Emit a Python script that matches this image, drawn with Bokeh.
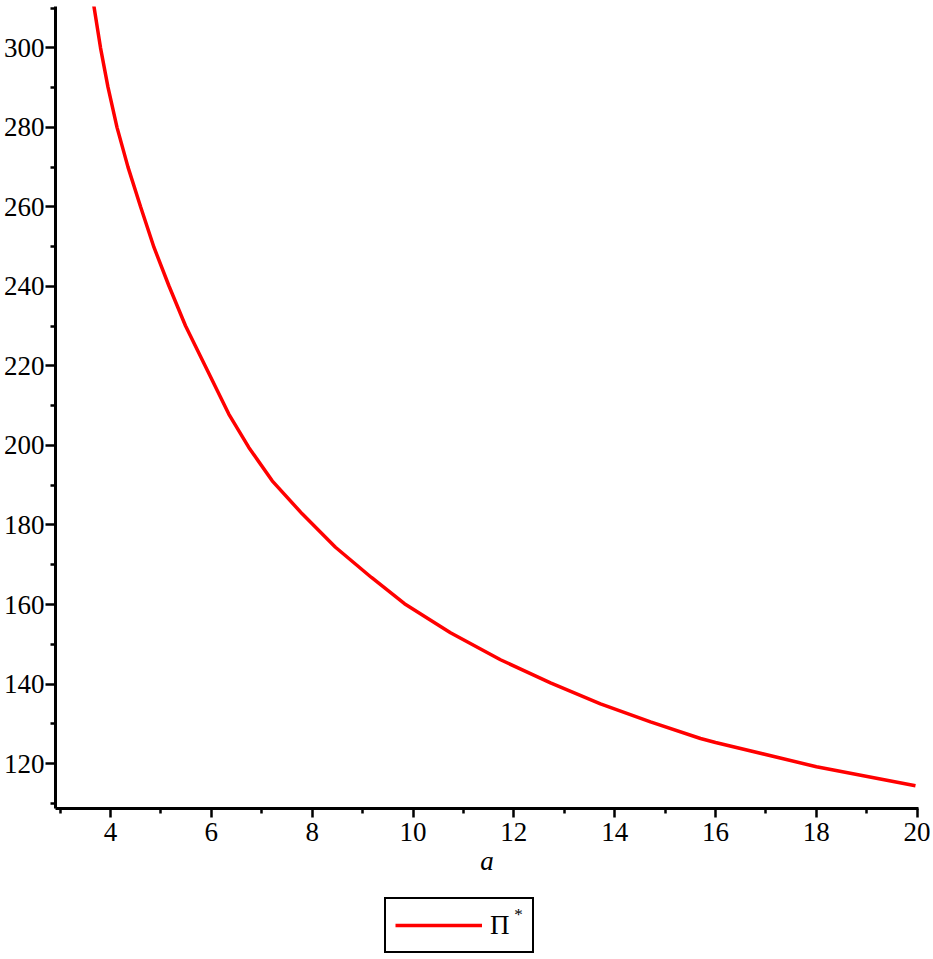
from bokeh.plotting import figure
from bokeh.models import Range1d, Legend, LegendItem, Label, FixedTicker
from bokeh.layouts import column
from bokeh.embed import file_html
from bokeh.resources import INLINE

# ---- data ----
a_values = [3.653, 3.802, 3.950, 4.129, 4.347, 4.595, 4.863, 5.160, 5.487, 5.874,
            6.346, 6.743, 7.207, 7.802, 8.462, 9.176, 9.831, 10.743, 11.735,
            12.727, 13.718, 14.710, 15.702, 16.000, 18.002, 19.966]
pi_values = [311.9, 300.0, 290.1, 280.0, 270.0, 260.1, 249.8, 240.1, 230.1, 220.1,
             207.9, 199.5, 191.1, 182.8, 174.4, 166.8, 160.2, 152.9, 146.1,
             140.3, 135.0, 130.5, 126.3, 125.3, 119.2, 114.4]

x_major_ticks = [4, 6, 8, 10, 12, 14, 16, 18, 20]
x_minor_ticks = [3, 5, 7, 9, 11, 13, 15, 17, 19]
y_major_ticks = [120, 140, 160, 180, 200, 220, 240, 260, 280, 300]
y_minor_ticks = [110, 130, 150, 170, 190, 210, 230, 250, 270, 290, 310]

x_label = "a"
series_label = "\u03a0"
series_superscript = "*"

FONT = "Liberation Serif"
RED = "#ff0000"

# ---- main plot ----
p = figure(width=930, height=890, output_backend="svg", toolbar_location=None,
           x_range=Range1d(2.909, 20.026), y_range=Range1d(108.70, 310.39),
           min_border_left=55, min_border_right=12, min_border_top=6,
           min_border_bottom=82)
p.outline_line_color = None
p.xgrid.visible = False
p.ygrid.visible = False

r = p.line(a_values, pi_values, line_color=RED, line_width=3.5)

p.xaxis.ticker = FixedTicker(ticks=x_major_ticks, minor_ticks=x_minor_ticks)
p.yaxis.ticker = FixedTicker(ticks=y_major_ticks, minor_ticks=y_minor_ticks)

for ax in (p.xaxis[0], p.yaxis[0]):
    ax.axis_line_color = "black"
    ax.axis_line_width = 3
    ax.major_tick_line_color = "black"
    ax.major_tick_line_width = 2.5
    ax.minor_tick_line_color = "black"
    ax.minor_tick_line_width = 2.5
    ax.major_tick_in = 0
    ax.minor_tick_in = 0
    ax.minor_tick_out = 5
    ax.major_label_text_font = FONT
    ax.major_label_text_font_size = "27px"
    ax.major_label_text_color = "black"

p.xaxis.major_tick_out = 9
p.yaxis.major_tick_out = 10
p.xaxis.major_label_standoff = 5
p.yaxis.major_label_standoff = 1

p.xaxis.axis_label = x_label
p.xaxis.axis_label_text_font = FONT
p.xaxis.axis_label_text_font_style = "italic"
p.xaxis.axis_label_text_font_size = "27px"
p.xaxis.axis_label_text_color = "black"
p.xaxis.axis_label_standoff = 2

# ---- legend strip below (frame aligned with the main plot) ----
p2 = figure(width=930, height=65, output_backend="svg", toolbar_location=None,
            x_range=Range1d(-10, -9), y_range=Range1d(-10, -9),
            x_axis_location=None, y_axis_location=None,
            min_border_left=0, min_border_right=0, min_border_top=0, min_border_bottom=0)
p2.outline_line_color = None
p2.xgrid.visible = False
p2.ygrid.visible = False
r2 = p2.line(a_values, pi_values, line_color=RED, line_width=3.5)

legend = Legend(items=[LegendItem(label=series_label, renderers=[r2])],
                location=(329, 2),
                border_line_color="black", border_line_width=2, border_line_alpha=1,
                background_fill_color=None,
                padding=9, spacing=0, margin=0,
                glyph_width=87, glyph_height=34, label_height=34, label_width=33,
                label_standoff=8, label_text_font=FONT, label_text_font_size="27px",
                label_text_color="black")
p2.add_layout(legend, "center")

sup = Label(x=463, y=41, x_units="screen", y_units="screen",
            text=series_superscript, text_font=FONT, text_font_size="17px",
            text_align="center", text_baseline="middle", text_color="black")
p2.add_layout(sup)

layout = column(p, p2, spacing=0)

open("out.html", "w").write(file_html(layout, INLINE))
